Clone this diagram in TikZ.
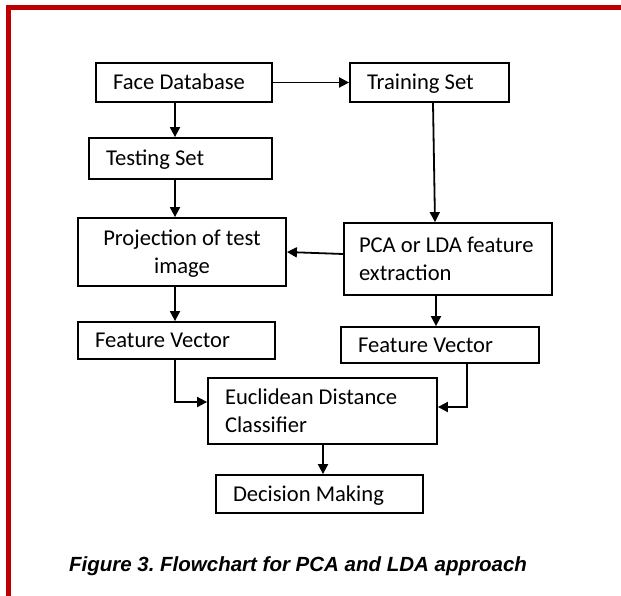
\documentclass[tikz,border=0pt]{standalone}
\usepackage{fontspec}
\usetikzlibrary{arrows.meta}
\newfontfamily\boxfont{Carlito}
\newfontfamily\capfont{Liberation Sans}
\definecolor{frame}{HTML}{C00000}
\frenchspacing

\begin{document}
\begin{tikzpicture}[
  x=1pt, y=-1pt,
  flowbox/.style={draw, line width=1.8pt, rectangle, inner xsep=17pt, inner ysep=0pt,
    align=flush left, font=\boxfont\fontsize{22.6}{28.5}\selectfont,
    text height=14.5pt, text depth=0pt},
  twoline/.style={text depth=28.5pt},
  arr/.style={line width=1.8pt, -{Triangle[length=10pt,width=10pt]}}
]
\useasboundingbox (0,0) rectangle (621,596);
\fill[white] (0,0) rectangle (621,596);

% frame on the top and left edges
\draw[frame, line width=5.3pt, line join=miter] (621,7.5) -- (8.8,7.5) -- (8.8,596);

% boxes
\node[flowbox, minimum width=176pt, minimum height=39pt, text width=142pt] (fd)  at (184,82.5)  {Face Database};
\node[flowbox, minimum width=159pt, minimum height=39pt, text width=125pt] (tr)  at (429.5,82.5) {Training Set};
\node[flowbox, minimum width=183pt, minimum height=41pt, text width=149pt] (ts)  at (180.5,158.5) {Testing Set};
\node[flowbox, twoline, align=flush center, minimum width=208pt, minimum height=68pt, text width=174pt] (pj) at (182,252) {Projection of test\\image};
\node[flowbox, twoline, inner xsep=15pt, minimum width=208pt, minimum height=72pt, text width=178pt] (pca) at (448,259) {PCA or LDA feature\\extraction};
\node[flowbox, minimum width=197pt, minimum height=37pt, text width=163pt] (fvl) at (176.5,340.5) {Feature Vector};
\node[flowbox, minimum width=198pt, minimum height=36pt, text width=164pt] (fvr) at (440,345) {Feature Vector};
\node[flowbox, twoline, minimum width=229pt, minimum height=66pt, text width=195pt] (eu)  at (322.5,411) {Euclidean Distance\\Classifier};
\node[flowbox, minimum width=207pt, minimum height=38pt, text width=173pt] (dm)  at (319.5,494) {Decision Making};

% column guides for the vertical connectors
\coordinate (colL) at (175,0);
\coordinate (trOut) at (433,0);
\coordinate (trIn) at (435,0);
\coordinate (colR) at (436,0);
\coordinate (colRR) at (467,0);
\coordinate (colM) at (323,0);

% connectors
\draw[arr] (fd.east) -- (tr.west);
\draw[arr] (colL |- fd.south) -- (colL |- ts.north);
\draw[arr] (colL |- ts.south) -- (colL |- pj.north);
\draw[arr] (trOut |- tr.south) -- (trIn |- pca.north);
\draw[arr] ([yshift=5pt]pca.west) -- (pj.east);
\draw[arr] (colL |- pj.south) -- (colL |- fvl.north);
\draw[arr] (colR |- pca.south) -- (colR |- fvr.north);
\draw[arr] (colL |- fvl.south) |- ([yshift=9pt]eu.west);
\draw[arr] (colRR |- fvr.south) |- ([yshift=4pt]eu.east);
\draw[arr] (colM |- eu.south) -- (colM |- dm.north);

% caption
\node[anchor=base, font=\capfont\bfseries\itshape\fontsize{20.5}{24}\selectfont] (cap) at (298,571)
  {Figure 3. Flowchart for PCA and LDA approach};
\end{tikzpicture}
\end{document}
